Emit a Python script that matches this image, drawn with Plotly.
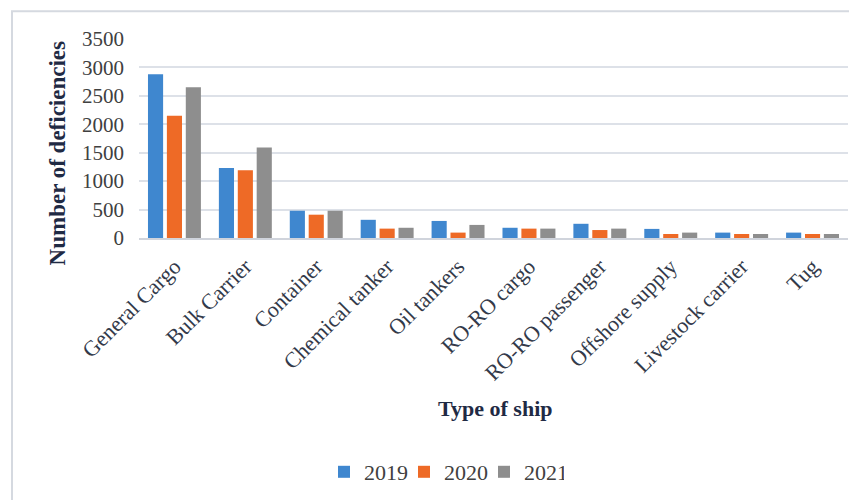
import plotly.graph_objects as go

categories = ["General Cargo", "Bulk Carrier", "Container", "Chemical tanker", "Oil tankers",
              "RO-RO cargo", "RO-RO passenger", "Offshore supply", "Livestock carrier", "Tug"]
y2019 = [2880, 1230, 480, 320, 300, 180, 250, 160, 95, 95]
y2020 = [2150, 1190, 410, 165, 95, 165, 140, 70, 70, 70]
y2021 = [2650, 1590, 480, 180, 230, 165, 165, 95, 70, 70]
years = ["2019", "2020", "2021"]
colors = ["#3f87cf", "#ee6a26", "#8e8e8e"]

fig = go.Figure()
for name, vals, c in zip(years, [y2019, y2020, y2021], colors):
    fig.add_trace(go.Bar(x=categories, y=vals, name=name, marker=dict(color=c, line=dict(width=0))))

OFF = 8  # page body margin
W, H = 857 - OFF, 500 - OFF
# target pixel positions in the window
PL, PR, PT, PB = 139, 848, 39, 239
L, T = PL - OFF, PT - OFF
R = W - (PR - OFF)
B = H - (PB - OFF)
pw, ph = PR - PL, PB - PT

def px2x(px):
    return (px - PL) / pw

def py2y(py):
    return (PB - py) / ph

fig.add_shape(type="rect", xref="paper", yref="paper",
              x0=px2x(12), x1=px2x(880), y0=py2y(520), y1=py2y(11),
              line=dict(color="#d5d9e0", width=2), fillcolor="rgba(0,0,0,0)", layer="below")

fig.add_annotation(text="<b>Number of deficiencies</b>", xref="paper", yref="paper",
                   x=px2x(57), y=py2y(154), xanchor="center", yanchor="middle",
                   textangle=-90, showarrow=False,
                   font=dict(family="Liberation Serif", size=23, color="#1f2a44"))
fig.add_annotation(text="<b>Type of ship</b>", xref="paper", yref="paper",
                   x=px2x(495), y=py2y(410), xanchor="center", yanchor="middle",
                   showarrow=False,
                   font=dict(family="Liberation Serif", size=22, color="#1f2a44"))

fig.update_layout(
    width=W, height=H,
    margin=dict(l=L, r=R, t=T, b=B),
    paper_bgcolor="white", plot_bgcolor="white",
    font=dict(family="Liberation Serif", color="#404040"),
    barmode="group", bargap=0.2, bargroupgap=0.2,
    showlegend=True,
    legend=dict(orientation="h", x=px2x(444), xanchor="center", y=py2y(472), yanchor="middle",
                font=dict(size=22, color="#404040"), itemwidth=30,
                entrywidth=35, entrywidthmode="pixels", tracegroupgap=0),
    xaxis=dict(tickangle=-45, tickfont=dict(size=22, color="#333a4a"),
               showline=True, linecolor="#d0d4dc", linewidth=2, ticks="",
               ticklabelstandoff=5),
    yaxis=dict(range=[0, 3500], dtick=500, tickfont=dict(size=21, color="#404040"),
               showgrid=True, gridcolor="#dde1e8", gridwidth=2, zeroline=False,
               ticks="", ticklabelstandoff=14),
)

fig.write_html("out.html")
